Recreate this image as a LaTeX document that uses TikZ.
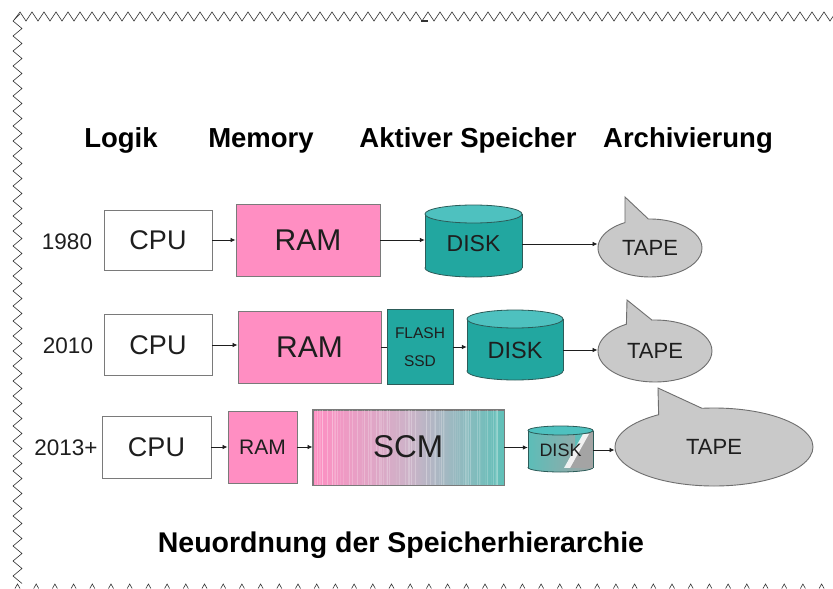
\documentclass[tikz,border=0pt]{standalone}
\usepackage{fontspec}
\setmainfont{Liberation Sans}
\usetikzlibrary{shapes.callouts,arrows.meta,calc}

\definecolor{ramPink}{HTML}{FF8EC2}
\definecolor{diskBody}{HTML}{22A7A0}
\definecolor{diskTop}{HTML}{4EC1BF}
\definecolor{diskEdge}{HTML}{2C5C59}
\definecolor{tapeFill}{HTML}{C9C9C9}
\definecolor{tapeEdge}{HTML}{6E6E6E}
\definecolor{boxEdge}{HTML}{7A7A7A}
\definecolor{ink}{HTML}{1E1E1E}
\definecolor{scmTeal}{HTML}{5FC0B8}
\definecolor{scmMid}{HTML}{CDB3C8}
\definecolor{smallTeal}{HTML}{5CBDB8}
\definecolor{smallGray}{HTML}{A4A4A4}
\definecolor{frameInk}{HTML}{333333}

% cylinder: left x, right x, top y, bottom y, end radius
\newcommand\diskshape[5]{%
  \path[fill=diskBody, draw=diskEdge, line width=0.8pt]
    ({(#1+#2)/2},{#4-#5}) ellipse[x radius={(#2-#1)/2}, y radius=#5];
  \fill[diskBody] (#1,{#3+#5}) rectangle (#2,{#4-#5});
  \draw[diskEdge, line width=0.8pt] (#1,{#3+#5}) -- (#1,{#4-#5}) (#2,{#3+#5}) -- (#2,{#4-#5});
  \path[fill=diskTop, draw=diskEdge, line width=0.8pt]
    ({(#1+#2)/2},{#3+#5}) ellipse[x radius={(#2-#1)/2}, y radius=#5];
}

\tikzset{
  txt/.style={text=ink, inner sep=0pt},
  head/.style={txt, font=\bfseries\fontsize{27.5}{30}\selectfont, text=black, anchor=base},
  year/.style={txt, font=\fontsize{22.5}{26}\selectfont},
  box/.style={rectangle, inner sep=0pt, line width=0.9pt, draw=boxEdge, text=ink},
  cpubox/.style={box, fill=white, font=\fontsize{27}{30}\selectfont},
  rambox/.style={box, fill=ramPink, font=\fontsize{30}{33}\selectfont},
  flashbox/.style={box, fill=diskBody, draw=diskEdge, font=\fontsize{15.5}{28}\selectfont, align=center},
  disklabel/.style={rectangle, inner sep=0pt, text=ink, font=\fontsize{23}{26}\selectfont},
  tape/.style={ellipse callout, draw=tapeEdge, fill=tapeFill, line width=0.9pt,
    inner sep=0pt, text=ink, font=\fontsize{22}{25}\selectfont, callout pointer arc=27},
  conn/.style={draw=ink, line width=0.8pt, -{Latex[length=5pt,width=4.5pt]}},
  link/.style={draw=ink, line width=0.8pt},
}

\begin{document}
\begin{tikzpicture}[x=1pt, y=-1pt]
\useasboundingbox (0,0) rectangle (833,589);
\fill[white] (0,0) rectangle (833,589);

% torn page edges
\draw[frameInk, line width=0.6pt] (14,20) foreach \i in {0,...,68} { -- ({20+\i*12},12) -- ({26+\i*12},21) };
\draw[frameInk, line width=0.6pt] (20,14) foreach \i in {0,...,37} { -- (13,{21+\i*15}) -- (22,{28.5+\i*15}) };
\foreach \i in {0,...,43} {
  \draw[frameInk, line width=0.6pt] ({15+\i*18.7},588.5) -- ({17.5+\i*18.7},584) -- ({20+\i*18.7},588.5);
}
\draw[frameInk, line width=1.2pt] (421,21) -- (428,21);

% column headings
\node[head] (hLogik) at (121,147) {Logik};
\node[head] (hMem) at (261,147) {Memory};
\node[head] (hAkt) at (468,147) {Aktiver Speicher};
\node[head] (hArch) at (688,147) {Archivierung};

% ---- 1980 ----
\node[year] (y1) at (67,242) {1980};
\node[cpubox, minimum width=108pt, minimum height=60pt] (cpu1) at (158,240) {CPU};
\node[rambox, minimum width=144pt, minimum height=72pt] (ram1) at (308,240) {RAM};
\diskshape{425}{522}{205}{277}{9}
\node[disklabel, minimum width=97pt, minimum height=60pt] (disk1) at (473.5,244) {DISK};
\node[tape, minimum width=104pt, minimum height=58pt, callout absolute pointer={(625,197)}] (tape1) at (650,248) {TAPE};
\draw[conn] (cpu1.east) -- (cpu1.east -| ram1.west);
\draw[conn] (ram1.east) -- (ram1.east -| disk1.west);
\draw[conn] (disk1.east) -- (disk1.east -| tape1.west);

% ---- 2010 ----
\node[year] (y2) at (68,346) {2010};
\node[cpubox, minimum width=108pt, minimum height=61pt] (cpu2) at (158,345) {CPU};
\node[rambox, minimum width=143pt, minimum height=72pt] (ram2) at (309.5,347) {RAM};
\node[flashbox, minimum width=66pt, minimum height=75pt] (flash) at (420,347) {FLASH\\SSD};
\diskshape{467}{563}{310}{380}{9}
\node[disklabel, font=\fontsize{23.5}{26}\selectfont, minimum width=96pt, minimum height=56pt] (disk2) at (515,350) {DISK};
\node[tape, minimum width=114pt, minimum height=62pt, callout absolute pointer={(627,300)}] (tape2) at (655,351) {TAPE};
\draw[conn] (cpu2.east) -- (cpu2.east -| ram2.west);
\draw[link] (ram2.east) -- (ram2.east -| flash.west);
\draw[conn] (flash.east) -- (flash.east -| disk2.west);
\draw[conn] (disk2.east) -- (disk2.east -| tape2.west);

% ---- 2013+ ----
\node[year] (y3) at (66,448) {2013+};
\node[cpubox, minimum width=109pt, minimum height=62pt] (cpu3) at (156.5,447) {CPU};
\node[rambox, font=\fontsize{21}{24}\selectfont, minimum width=69pt, minimum height=72pt] (ram3) at (262.5,447) {RAM};
% storage class memory: blend from RAM to disk colours
\node[box, minimum width=191pt, minimum height=75pt, left color=ramPink, right color=scmTeal, middle color=scmMid] (scm) at (408.5,447.5) {};
\begin{scope}
  \clip (scm.north west) rectangle (scm.south east);
  \pgfmathsetseed{12}
  \foreach \k in {1,...,70} {
    \pgfmathsetmacro\xx{313+191*rnd}
    \pgfmathsetmacro\oo{0.06+0.2*rnd}
    \draw[white, opacity=\oo, line width=0.7pt] (\xx,405) -- (\xx,490);
  }
\end{scope}
\draw[boxEdge, line width=0.9pt] (scm.north west) rectangle (scm.south east);
\node[txt, font=\fontsize{31.5}{34}\selectfont] (scmt) at (408,447) {SCM};

% small cylinder, half faded towards grey
\path[left color=smallTeal, right color=smallGray, draw=diskEdge, line width=0.8pt]
  (560.5,467.5) ellipse[x radius=32.5, y radius=4.5];
\fill[smallTeal] (528,430.5) rectangle (593,467.5);
\begin{scope}
  \clip (528,430.5) rectangle (593,467.5);
  \fill[left color=smallTeal, right color=smallGray!70!smallTeal] (528,430.5) rectangle (575,467.5);
  \fill[smallGray] (586,430.5) -- (593,430.5) -- (593,468) -- (566,468) -- cycle;
  \fill[white, opacity=0.85] (583,434) -- (589,434) -- (570,468) -- (564,468) -- cycle;
\end{scope}
\draw[diskEdge, line width=0.8pt] (528,430.5) -- (528,467.5) (593,430.5) -- (593,467.5);
\path[fill=diskTop, draw=diskEdge, line width=0.8pt] (560.5,430.5) ellipse[x radius=32.5, y radius=4.5];
\node[disklabel, font=\fontsize{18}{20}\selectfont, minimum width=65pt, minimum height=36pt] (disk3) at (560.5,450) {DISK};

\node[tape, minimum width=198pt, minimum height=78pt, callout absolute pointer={(658,388)}] (tape3) at (714,447) {TAPE};
\draw[conn] (cpu3.east) -- (cpu3.east -| ram3.west);
\draw[conn] (ram3.east) -- (ram3.east -| scm.west);
\draw[conn] (scm.east) -- (scm.east -| disk3.west);
\draw[conn] (disk3.east) -- (disk3.east -| tape3.west);

% caption
\node[head, font=\bfseries\fontsize{28.5}{31}\selectfont] (caption) at (401,552) {Neuordnung der Speicherhierarchie};
\end{tikzpicture}
\end{document}
